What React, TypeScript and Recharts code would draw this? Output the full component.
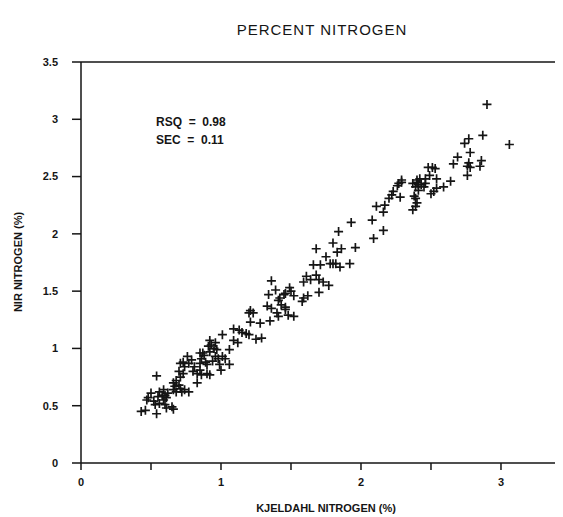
import { ReferenceLine, Scatter, ScatterChart, XAxis, YAxis } from 'recharts';

// ----------------------------------------------------------------------

const kjeldahl = [
  0.43, 0.46, 0.54, 0.54, 0.5, 0.48, 0.47, 0.52, 0.53, 0.56,
  0.59, 0.58, 0.6, 0.61, 0.59, 0.56, 0.6, 0.62, 0.55, 0.61,
  0.65, 0.66, 0.66, 0.68, 0.67, 0.7, 0.71, 0.68, 0.72, 0.66,
  0.74, 0.77, 0.7, 0.71, 0.73, 0.71, 0.73, 0.76, 0.77, 0.74,
  0.8, 0.83, 0.81, 0.85, 0.83, 0.85, 0.86, 0.87, 0.85, 0.89,
  0.9, 0.86, 0.9, 0.92, 0.92, 0.93, 0.91, 0.95, 0.96, 0.97,
  0.92, 0.96, 0.98, 0.88, 0.94, 0.79, 1.01, 1.06, 1.01, 1.03,
  0.99, 1.06, 1.0, 1.09, 1.13, 1.15, 1.18, 1.25, 1.09, 1.12,
  1.2, 1.21, 1.23, 1.21, 1.28, 1.35, 1.34, 1.33, 1.36, 1.4,
  1.41, 1.43, 1.46, 1.48, 1.36, 1.39, 1.49, 1.5, 1.46, 1.45,
  1.42, 1.41, 1.52, 1.46, 1.52, 1.2, 1.29, 1.58, 1.59, 1.62,
  1.7, 1.61, 1.64, 1.59, 1.68, 1.7, 1.73, 1.77, 1.66, 1.71,
  1.78, 1.8, 1.82, 1.85, 1.92, 1.75, 1.68, 1.83, 1.86, 1.8,
  1.96, 1.84, 1.93, 2.08, 2.16, 2.09, 2.17, 2.16, 2.11, 2.2,
  2.23, 2.22, 2.28, 2.29, 2.27, 2.26, 2.29, 2.4, 2.42, 2.43,
  2.39, 2.45, 2.41, 2.37, 2.4, 2.41, 2.46, 2.39, 2.4, 2.39,
  2.37, 2.38, 2.53, 2.51, 2.48, 2.54, 2.49, 2.46, 2.52, 2.5,
  2.54, 2.59, 2.64, 2.66, 2.69, 2.74, 2.77, 2.87, 2.78, 2.77,
  2.76, 2.78, 2.76, 2.86, 2.85, 2.9, 3.06,
];

const nir = [
  0.45, 0.46, 0.43, 0.76, 0.61, 0.57, 0.55, 0.54, 0.51, 0.62,
  0.64, 0.59, 0.59, 0.57, 0.55, 0.52, 0.51, 0.61, 0.58, 0.48,
  0.49, 0.47, 0.7, 0.72, 0.67, 0.68, 0.65, 0.62, 0.62, 0.64,
  0.64, 0.62, 0.8, 0.75, 0.78, 0.87, 0.88, 0.93, 0.87, 0.84,
  0.8, 0.78, 0.84, 0.81, 0.7, 0.87, 0.91, 0.96, 0.96, 0.88,
  0.86, 0.77, 0.78, 0.77, 1.07, 1.03, 1.02, 1.0, 1.05, 0.99,
  0.97, 0.93, 0.91, 0.94, 0.89, 0.9, 1.12, 0.99, 0.93, 0.91,
  0.86, 0.86, 0.81, 1.17, 1.16, 1.14, 1.13, 1.08, 1.07, 1.05,
  1.31, 1.33, 1.31, 1.23, 1.22, 1.24, 1.47, 1.37, 1.35, 1.31,
  1.28, 1.38, 1.36, 1.29, 1.59, 1.51, 1.53, 1.5, 1.48, 1.47,
  1.44, 1.42, 1.46, 1.34, 1.28, 1.12, 1.09, 1.41, 1.44, 1.46,
  1.49, 1.63, 1.6, 1.58, 1.64, 1.6, 1.58, 1.55, 1.73, 1.73,
  1.74, 1.74, 1.74, 1.71, 1.74, 1.8, 1.87, 1.84, 1.87, 1.92,
  1.88, 2.02, 2.1, 2.12, 2.03, 1.96, 2.25, 2.19, 2.24, 2.31,
  2.37, 2.34, 2.32, 2.47, 2.44, 2.42, 2.45, 2.47, 2.48, 2.43,
  2.41, 2.41, 2.38, 2.44, 2.45, 2.43, 2.44, 2.31, 2.27, 2.24,
  2.21, 2.33, 2.57, 2.58, 2.58, 2.48, 2.51, 2.48, 2.37, 2.35,
  2.4, 2.41, 2.46, 2.61, 2.67, 2.79, 2.83, 2.86, 2.71, 2.62,
  2.59, 2.58, 2.51, 2.64, 2.59, 3.13, 2.78,
];

const xTicks = [0, 0.5, 1, 1.5, 2, 2.5, 3];
const yTicks = [0, 0.5, 1, 1.5, 2, 2.5, 3, 3.5];

const points = kjeldahl.map((x, i) => ({ x, y: nir[i] }));

// ----------------------------------------------------------------------

const INK = '#151515';
const FONT = '"Liberation Sans", Arial, sans-serif';

function PlusMark(props: any) {
  const { cx, cy } = props;
  const r = 4.5;
  return (
    <path
      d={`M${cx - r},${cy}H${cx + r}M${cx},${cy - r}V${cy + r}`}
      stroke={INK}
      strokeWidth={1.7}
      fill="none"
    />
  );
}

const tickStyle = { fill: INK, fontSize: 11, fontWeight: 700, fontFamily: FONT };

export default function App() {
  return (
    <div style={{ position: 'relative', width: 555, height: 509, fontFamily: FONT, color: INK }}>
      <div
        style={{
          position: 'absolute',
          left: 314,
          top: 13,
          transform: 'translateX(-50%)',
          fontSize: 15,
          letterSpacing: 1,
          whiteSpace: 'nowrap',
        }}
      >
        PERCENT NITROGEN
      </div>
      <div
        style={{
          position: 'absolute',
          left: 10,
          top: 254,
          transform: 'translate(-50%, -50%) rotate(-90deg)',
          fontSize: 11,
          fontWeight: 700,
          whiteSpace: 'nowrap',
        }}
      >
        NIR NITROGEN (%)
      </div>
      <div
        style={{
          position: 'absolute',
          left: 318,
          top: 494,
          transform: 'translateX(-50%)',
          fontSize: 11,
          fontWeight: 700,
          whiteSpace: 'nowrap',
        }}
      >
        KJELDAHL NITROGEN (%)
      </div>
      <div
        style={{
          position: 'absolute',
          left: 148,
          top: 105,
          fontSize: 12,
          fontWeight: 700,
          lineHeight: '18px',
          whiteSpace: 'pre',
        }}
      >
        {'RSQ  =  0.98\nSEC  =  0.11'}
      </div>
      <ScatterChart width={555} height={509} margin={{ top: 54, right: 0, left: 0, bottom: 0 }}>
        <XAxis
          type="number"
          dataKey="x"
          domain={[0, 3.443]}
          ticks={xTicks}
          allowDataOverflow
          tickFormatter={(v: number) => (Number.isInteger(v) ? String(v) : '')}
          tick={tickStyle}
          tickSize={7}
          tickMargin={8}
          height={54}
          stroke={INK}
          strokeWidth={1.5}
        />
        <YAxis
          type="number"
          dataKey="y"
          domain={[0, 3.5]}
          ticks={yTicks}
          tick={tickStyle}
          tickSize={9}
          tickMargin={14}
          width={73}
          stroke={INK}
          strokeWidth={1.5}
        />
        <ReferenceLine y={3.5} stroke={INK} strokeWidth={1.5} />
        <Scatter data={points} shape={PlusMark} isAnimationActive={false} />
      </ScatterChart>
    </div>
  );
}
